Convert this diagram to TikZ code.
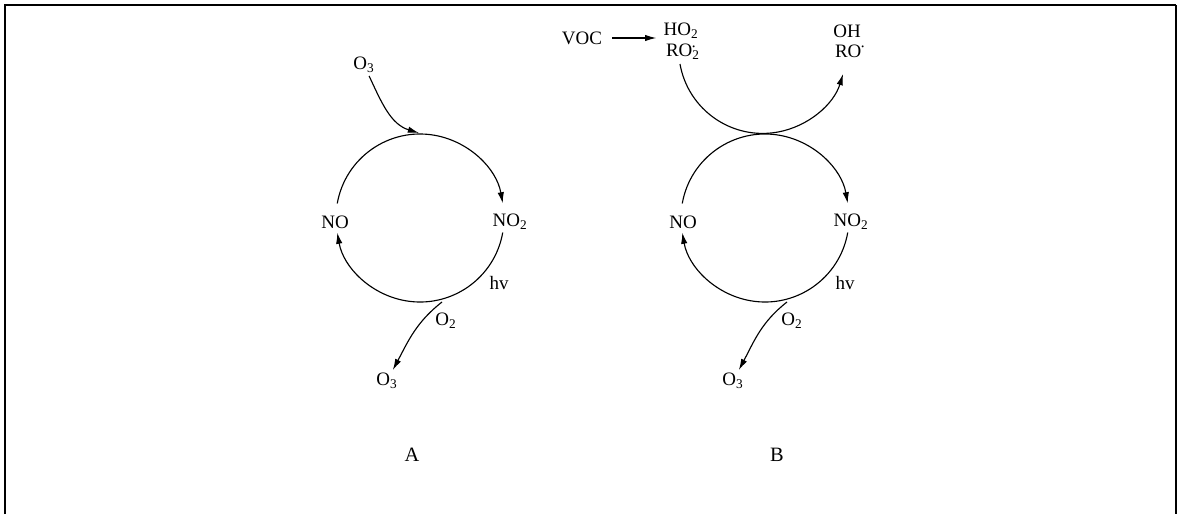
\documentclass[tikz,border=0pt]{standalone}
\usepackage{fontspec}
\setmainfont{Liberation Serif}
\usetikzlibrary{arrows.meta, positioning, calc}
\newcommand{\rad}{\textsuperscript{\scalebox{0.6}{\textbullet}}}
\tikzset{
  chem/.style={font=\fontsize{13.5}{14}\selectfont, inner sep=2pt},
  panel/.style={font=\fontsize{14.5}{16}\selectfont},
  flow/.style={line width=0.8pt, -{Latex[length=2.8mm,width=1.6mm]}},
}

\begin{document}
\begin{tikzpicture}[x=0.025cm,y=0.025cm]
    \useasboundingbox (0,0) rectangle (1177,-514);
    \draw[line width=1.9pt] (5,-514) -- (5,-5) -- (1176,-5);
    \draw[line width=0.8pt] (1176,-5) -- (1176,-514);

    % cycle A
    \coordinate (cA) at (420,-218);
    \coordinate (topA) at (419,-133);
    \coordinate (outA) at (442,-302);
    \node[chem] (o3inA) at (364,-65) {O\textsubscript{3}};
    \node[chem] (noA) at (335,-222) {NO};
    \node[chem] (no2A) at (510,-222) {NO\textsubscript{2}};
    \node[chem] (hvA) at (499,-283) {hv};
    \node[chem] (o2A) at (446,-321) {O\textsubscript{2}};
    \node[chem] (o3outA) at (387,-381) {O\textsubscript{3}};
    \node[panel] (labA) at (412,-455) {A};
    \draw[flow] (cA) ++(170:84) arc[start angle=170, end angle=10, radius=84];
    \draw[flow] (cA) ++(-10:84) arc[start angle=-10, end angle=-170, radius=84];
    \draw[flow] (o3inA) to[out=-65, in=163] (topA);
    \draw[flow] (outA) to[out=218, in=62] (o3outA);

    % cycle B
    \coordinate (cB) at (765,-218);
    \coordinate (outB) at (787,-302);
    \node[chem] (vocB) at (582,-38) {VOC};
    \node[chem] (ho2B) at (681,-31) {HO\textsubscript{2}};
    \node[chem] (ro2B) at (681,-52) {RO\rlap{\textsubscript{2}}\rad};
    \node[chem] (ohB) at (847,-31) {OH};
    \node[chem] (roB) at (850,-51) {RO\rad};
    \node[chem] (noB) at (683,-222) {NO};
    \node[chem] (no2B) at (851,-222) {NO\textsubscript{2}};
    \node[chem] (hvB) at (845,-283) {hv};
    \node[chem] (o2B) at (792,-321) {O\textsubscript{2}};
    \node[chem] (o3outB) at (733,-381) {O\textsubscript{3}};
    \node[panel] (labB) at (777,-455) {B};
    \draw[flow, shorten <=5pt, shorten >=3pt] (vocB.east) -- (vocB.east -| ho2B.west);
    \draw[flow] (680,-64) arc[start angle=190, end angle=343, radius=84];
    \draw[flow] (cB) ++(170:84) arc[start angle=170, end angle=10, radius=84];
    \draw[flow] (cB) ++(-10:84) arc[start angle=-10, end angle=-170, radius=84];
    \draw[flow] (outB) to[out=218, in=62] (o3outB);
\end{tikzpicture}
\end{document}
